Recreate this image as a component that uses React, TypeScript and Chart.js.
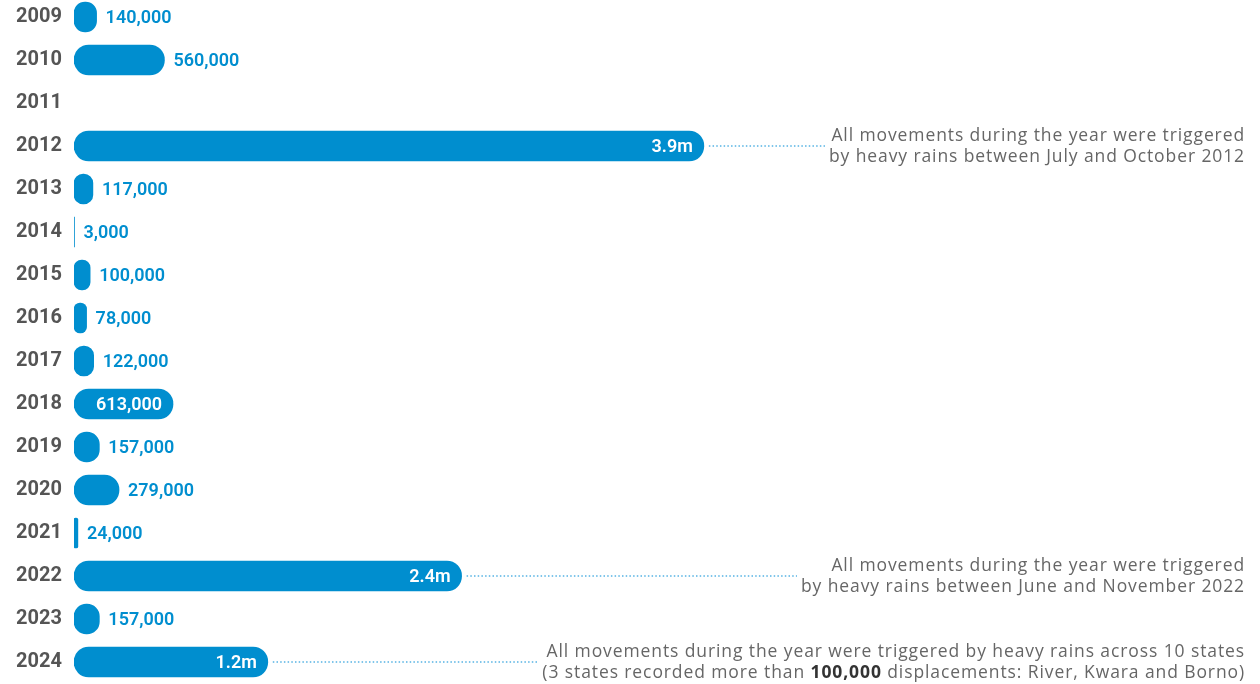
import { useEffect, useRef } from 'react';
import { Chart, registerables } from 'chart.js';

Chart.register(...registerables);

const years = ['2009', '2010', '2011', '2012', '2013', '2014', '2015', '2016', '2017', '2018', '2019', '2020', '2021', '2022', '2023', '2024'];
const displacements: (number | null)[] = [140000, 560000, null, 3900000, 117000, 3000, 100000, 78000, 122000, 613000, 157000, 279000, 24000, 2400000, 157000, 1200000];
const insideThreshold = 600000;

const noteYears = ['2012', '2022', '2024'];
const noteFirstLines = [
  'All movements during the year were triggered',
  'All movements during the year were triggered',
  'All movements during the year were triggered by heavy rains across 10 states',
];
const noteSecondLines = [
  'by heavy rains between July and October 2012',
  'by heavy rains between June and November 2022',
  '(3 states recorded more than **100,000** displacements: River, Kwara and Borno)',
];

const BLUE = '#008ECF';
const FONT = 'Roboto, "Noto Sans", sans-serif';
const NOTE_FONT = '"Open Sans", Roboto, sans-serif';
const W = 1260;
const H = 704;

function formatValue(v: number): string {
  if (v >= 1000000) return (v / 1000000).toFixed(1) + 'm';
  return v.toLocaleString('en-US');
}

function drawRich(ctx: CanvasRenderingContext2D, line: string, rightX: number, y: number, size: number) {
  const parts = line.split('**');
  const fonts = parts.map((_, i) => (i % 2 === 1 ? `700 ${size}px ${NOTE_FONT}` : `400 ${size}px ${NOTE_FONT}`));
  (ctx as any).letterSpacing = '0.9px';
  let total = 0;
  const widths = parts.map((p, i) => {
    ctx.font = fonts[i];
    const w = ctx.measureText(p).width;
    total += w;
    return w;
  });
  let x = rightX - total;
  const left = x;
  parts.forEach((p, i) => {
    ctx.font = fonts[i];
    ctx.fillStyle = i % 2 === 1 ? '#333333' : '#666666';
    ctx.textAlign = 'left';
    ctx.fillText(p, x, y);
    x += widths[i];
  });
  (ctx as any).letterSpacing = '0px';
  return left;
}

const labelPlugin = {
  id: 'valueLabels',
  afterDatasetsDraw(chart: any) {
    const ctx: CanvasRenderingContext2D = chart.ctx;
    const meta = chart.getDatasetMeta(0);
    ctx.save();
    ctx.textBaseline = 'middle';
    meta.data.forEach((bar: any, i: number) => {
      const v = displacements[i];
      if (v == null) return;
      const { x, y } = bar.getProps(['x', 'y'], true);
      ctx.font = `600 18px ${FONT}`;
      if (v > insideThreshold) {
        ctx.fillStyle = '#ffffff';
        ctx.textAlign = 'right';
        ctx.fillText(formatValue(v), x - 11, y + 1);
      } else {
        ctx.fillStyle = BLUE;
        ctx.textAlign = 'left';
        ctx.fillText(formatValue(v), x + 9, y + 1);
      }
    });
    const rightX = chart.width - 15;
    noteYears.forEach((yr, k) => {
      const i = years.indexOf(yr);
      const bar = meta.data[i];
      const { x, y } = bar.getProps(['x', 'y'], true);
      ctx.textBaseline = 'middle';
      const l1 = drawRich(ctx, noteFirstLines[k], rightX, y - 10, 17.5);
      const l2 = drawRich(ctx, noteSecondLines[k], rightX, y + 11, 17.5);
      const endX = Math.min(l1, l2) - 4;
      ctx.beginPath();
      ctx.setLineDash([1.5, 2.2]);
      ctx.lineWidth = 1.5;
      ctx.strokeStyle = '#55b3e3';
      ctx.moveTo(x + 5, y);
      ctx.lineTo(endX, y);
      ctx.stroke();
      ctx.setLineDash([]);
    });
    ctx.restore();
  },
};

export default function App() {
  const ref = useRef<HTMLCanvasElement | null>(null);
  useEffect(() => {
    if (!ref.current) return;
    const chart = new Chart(ref.current, {
      type: 'bar',
      data: {
        labels: years,
        datasets: [
          {
            data: displacements,
            backgroundColor: BLUE,
            borderRadius: 16,
            borderSkipped: false,
            barThickness: 30,
          },
        ],
      },
      options: {
        indexAxis: 'y',
        animation: false,
        responsive: false,
        maintainAspectRatio: false,
        layout: { padding: { top: 15.5, bottom: 0.5, left: 0, right: 23.2 } },
        plugins: { legend: { display: false }, tooltip: { enabled: false }, title: { display: false } },
        scales: {
          x: { display: false, min: 0, max: 7200000, grid: { display: false } },
          y: {
            grid: { display: false, drawTicks: false },
            border: { display: false },
            afterFit: (scale: any) => {
              scale.width = 74;
              scale.paddingTop = 0;
              scale.paddingBottom = 0;
            },
            ticks: {
              padding: 12,
              color: '#555555',
              font: { family: FONT, size: 20, weight: 'bold' },
            },
          },
        },
      },
      plugins: [labelPlugin],
    });
    return () => chart.destroy();
  }, []);
  return (
    <div style={{ position: 'absolute', left: 0, top: -20, width: W, height: H }}>
      <canvas ref={ref} width={W} height={H} style={{ display: 'block', width: W, height: H }} />
    </div>
  );
}
